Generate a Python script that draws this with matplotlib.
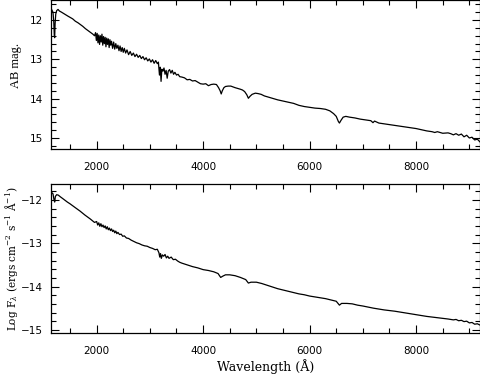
import matplotlib
matplotlib.use("Agg")
import matplotlib.pyplot as plt
from matplotlib.ticker import MultipleLocator

# ---- data ----
wave_ab = [1150, 1180, 1195, 1205, 1212, 1220, 1232, 1250, 1275, 1300, 1340, 1375, 1420, 1460,
           1500, 1550, 1600, 1650, 1690, 1740, 1790, 1840, 1880, 1930, 1960,
           1980, 1995, 2010, 2025, 2040, 2055, 2070, 2085, 2100, 2115, 2130, 2145, 2160, 2175,
           2190, 2205, 2220, 2235, 2250, 2265, 2280, 2300, 2320, 2340, 2360, 2380, 2400, 2420,
           2440, 2460, 2480, 2500, 2520, 2545, 2570, 2600, 2630, 2660, 2690, 2720, 2750, 2780,
           2810, 2840, 2870, 2900, 2930, 2960, 2990, 3020, 3050, 3080, 3110, 3140, 3160,
           3180, 3195, 3210, 3225, 3245, 3265, 3285, 3305, 3325, 3345, 3370, 3395, 3420, 3445,
           3470, 3500, 3530, 3560, 3600, 3650, 3700, 3750, 3800, 3850, 3900, 3950, 4000, 4050,
           4100, 4150, 4200, 4250, 4290, 4320, 4340, 4360, 4390, 4420, 4470, 4520, 4560, 4600,
           4650, 4700, 4740, 4780, 4820, 4850, 4880, 4920, 4980, 5030, 5090, 5150, 5200, 5300,
           5400, 5500, 5600, 5700, 5800, 5900, 6000, 6100, 6200, 6300, 6380, 6450, 6500, 6540,
           6560, 6590, 6630, 6680, 6750, 6850, 6950, 7050, 7150, 7190, 7220, 7300, 7400, 7500,
           7600, 7700, 7800, 7900, 8000, 8100, 8200, 8300, 8350, 8400, 8500, 8600, 8650, 8700,
           8750, 8800, 8850, 8900, 8950, 9000, 9050, 9100, 9150, 9200]
ab_mag = [11.72, 11.80, 12.05, 12.40, 12.45, 12.10, 11.85, 11.76, 11.73, 11.77, 11.80, 11.83, 11.87, 11.90,
          11.93, 11.97, 12.03, 12.07, 12.11, 12.16, 12.22, 12.27, 12.31, 12.36, 12.40,
          12.32, 12.52, 12.34, 12.58, 12.38, 12.62, 12.40, 12.56, 12.36, 12.64, 12.42, 12.60, 12.44, 12.68,
          12.46, 12.62, 12.48, 12.70, 12.50, 12.64, 12.54, 12.72, 12.56, 12.74, 12.60, 12.72, 12.64, 12.78,
          12.66, 12.80, 12.70, 12.82, 12.72, 12.84, 12.76, 12.88, 12.80, 12.90, 12.84, 12.93, 12.87, 12.95,
          12.90, 12.98, 12.93, 13.01, 12.96, 13.04, 12.99, 13.07, 13.01, 13.10, 13.03, 13.11, 13.07,
          13.40, 13.20, 13.56, 13.25, 13.30, 13.22, 13.38, 13.28, 13.48, 13.30, 13.26, 13.35, 13.28, 13.38,
          13.33, 13.40, 13.38, 13.44, 13.45, 13.47, 13.52, 13.51, 13.55, 13.54, 13.58, 13.62, 13.63, 13.62,
          13.67, 13.64, 13.63, 13.64, 13.72, 13.80, 13.88, 13.80, 13.72, 13.69, 13.68, 13.68, 13.70, 13.72,
          13.74, 13.76, 13.78, 13.82, 13.90, 13.99, 13.94, 13.89, 13.86, 13.87, 13.89, 13.93, 13.95, 13.99,
          14.03, 14.06, 14.09, 14.12, 14.17, 14.20, 14.22, 14.24, 14.25, 14.27, 14.31, 14.38, 14.45, 14.58,
          14.62, 14.55, 14.47, 14.45, 14.47, 14.49, 14.52, 14.54, 14.56, 14.61, 14.57, 14.62, 14.64, 14.66,
          14.68, 14.70, 14.72, 14.74, 14.76, 14.79, 14.82, 14.84, 14.86, 14.84, 14.88, 14.87, 14.89, 14.92,
          14.89, 14.93, 14.90, 14.97, 14.93, 15.00, 14.98, 15.05, 15.03, 15.10]

wave_flux = [1150, 1180, 1200, 1212, 1225, 1250, 1280, 1320, 1375, 1450, 1500, 1600, 1690, 1780, 1880, 1960,
             2000, 2020, 2040, 2060, 2080, 2100, 2120, 2140, 2160, 2180, 2200, 2220, 2240, 2260, 2280,
             2300, 2320, 2340, 2360, 2380, 2400, 2430, 2460, 2490, 2520, 2560, 2600, 2650, 2700, 2750,
             2800, 2850, 2900, 2950, 3000, 3050, 3100, 3140, 3170, 3185, 3200, 3215, 3235, 3260, 3285,
             3310, 3335, 3360, 3400, 3440, 3480, 3520, 3560, 3600, 3700, 3800, 3900, 4000, 4100, 4200,
             4280, 4330, 4370, 4420, 4500, 4600, 4700, 4800, 4850, 4900, 5000, 5100, 5200, 5300, 5400,
             5500, 5600, 5700, 5800, 5900, 6000, 6100, 6200, 6300, 6400, 6500, 6560, 6600, 6700, 6800,
             6900, 7000, 7200, 7400, 7600, 7800, 8000, 8200, 8400, 8600, 8700, 8750, 8800, 8850, 8900,
             8950, 9000, 9050, 9100, 9150, 9200]
log_flux = [-11.82, -11.86, -12.00, -12.05, -11.92, -11.88, -11.89, -11.93, -11.98, -12.05, -12.09, -12.18, -12.26, -12.35, -12.44, -12.52,
            -12.50, -12.58, -12.53, -12.61, -12.55, -12.62, -12.58, -12.64, -12.60, -12.67, -12.62, -12.69, -12.65, -12.71, -12.67,
            -12.73, -12.70, -12.76, -12.72, -12.78, -12.75, -12.80, -12.79, -12.84, -12.83, -12.88, -12.89, -12.93, -12.96, -12.99,
            -13.01, -13.04, -13.06, -13.07, -13.10, -13.12, -13.15, -13.14, -13.22, -13.32, -13.24, -13.35, -13.27, -13.30, -13.26,
            -13.34, -13.30, -13.35, -13.32, -13.38, -13.37, -13.41, -13.44, -13.46, -13.50, -13.54, -13.57, -13.61, -13.63, -13.66,
            -13.70, -13.79, -13.76, -13.73, -13.73, -13.75, -13.79, -13.84, -13.92, -13.90, -13.90, -13.93, -13.97, -14.01, -14.05,
            -14.08, -14.11, -14.14, -14.17, -14.19, -14.22, -14.24, -14.26, -14.28, -14.31, -14.34, -14.43, -14.39, -14.39, -14.40,
            -14.43, -14.45, -14.50, -14.54, -14.57, -14.61, -14.65, -14.69, -14.72, -14.75, -14.77, -14.76, -14.79, -14.78, -14.81,
            -14.80, -14.84, -14.83, -14.87, -14.86, -14.89]

x_ticks = [2000, 4000, 6000, 8000]

plt.rcParams['mathtext.fontset'] = 'dejavuserif'

fig = plt.figure(figsize=(4.81, 3.74), dpi=100)
ax1 = fig.add_axes([51/481, 1-149/374, 429/481, 149/374 - 0.001])
ax2 = fig.add_axes([51/481, 1-333.3/374, 429/481, 149/374])

ax1.plot(wave_ab, ab_mag, color='black', lw=0.9)
ax2.plot(wave_flux, log_flux, color='black', lw=0.9)

ax1.set_ylim(15.28, 11.5)
ax2.set_ylim(-15.08, -11.64)

for ax in (ax1, ax2):
    ax.set_xlim(1143, 9200)
    ax.set_xticks(x_ticks)
    ax.xaxis.set_minor_locator(MultipleLocator(500))
    ax.yaxis.set_major_locator(MultipleLocator(1))
    ax.yaxis.set_minor_locator(MultipleLocator(0.2))
    ax.tick_params(which='both', direction='in', top=True, right=True, width=0.8, color='black')
    ax.tick_params(which='major', length=6)
    ax.tick_params(which='minor', length=3.5)
    ax.tick_params(axis='x', which='major', pad=9, labelsize=7.5)
    ax.tick_params(axis='y', which='major', pad=6, labelsize=7.5)
    for s in ax.spines.values():
        s.set_linewidth(0.9)

ax1.set_ylabel('AB mag.', family='Liberation Serif', fontsize=9)
ax1.yaxis.set_label_coords(-0.068, 0.56)
ax2.set_ylabel(r'Log F$_\lambda$ (ergs cm$^{-2}$ s$^{-1}$ Å$^{-1}$)', family='DejaVu Serif', fontsize=7.6)
ax2.yaxis.set_label_coords(-0.072, 0.5)
ax2.set_xlabel('Wavelength (Å)', family='DejaVu Serif', fontsize=9)
ax2.xaxis.set_label_coords(0.5, -0.175)

fig.savefig('out.png', dpi=100)
